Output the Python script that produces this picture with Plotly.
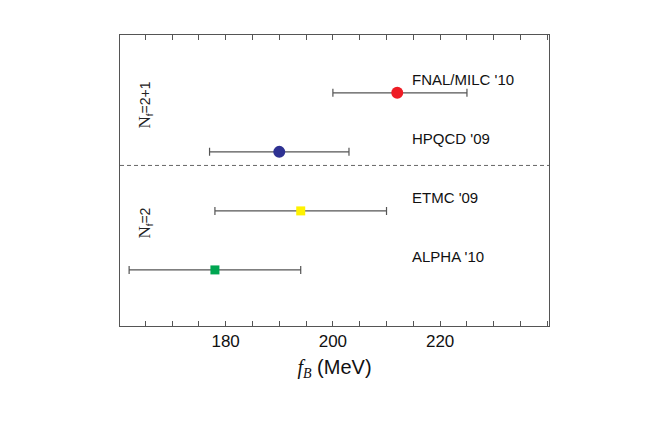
import plotly.graph_objects as go

# lattice results for f_B (MeV)
labels = ["FNAL/MILC '10", "HPQCD '09", "ETMC '09", "ALPHA '10"]
fb = [212, 190, 194, 178]
err_plus = [13, 13, 16, 16]
err_minus = [12, 13, 16, 16]
rows = [4, 3, 2, 1]
colors = ["#ee1c25", "#2e3192", "#fff200", "#00a651"]
symbols = ["circle", "circle", "square", "square"]
sizes = [12, 12, 9, 9]

fig = go.Figure()
for i in range(len(labels)):
    fig.add_trace(go.Scatter(
        x=[fb[i]], y=[rows[i]], mode="markers",
        marker=dict(color=colors[i], symbol=symbols[i], size=sizes[i], line=dict(width=0)),
        error_x=dict(type="data", symmetric=False, array=[err_plus[i]], arrayminus=[err_minus[i]],
                     color="#555555", thickness=1.2, width=4),
        showlegend=False))
    fig.add_annotation(x=214.3, y=rows[i] + 0.22, text=labels[i], showarrow=False,
                       xanchor="left", font=dict(family="Liberation Sans, Arial", size=15, color="#111"))

# separator between Nf=2+1 and Nf=2
fig.add_shape(type="line", xref="paper", x0=0, x1=1, y0=2.77, y1=2.77,
              line=dict(color="#666", width=1, dash="4px,3px"))

serif = "<span style='font-family:Liberation Serif;font-size:17px'>N</span><sub>f</sub>"
fig.add_annotation(xref="paper", x=0.03, y=3.8, text=serif + "=2+1", textangle=-90,
                   showarrow=False, font=dict(family="Liberation Sans, Arial", size=14, color="#222"))
fig.add_annotation(xref="paper", x=0.03, y=1.8, text=serif + "=2", textangle=-90,
                   showarrow=False, font=dict(family="Liberation Sans, Arial", size=14, color="#222"))

fig.update_layout(
    width=654, height=436,
    margin=dict(l=112, r=113, t=27, b=118),
    plot_bgcolor="white", paper_bgcolor="white",
    xaxis=dict(range=[160.3, 240.3], tickvals=[180, 200, 220], ticks="inside", ticklen=5,
               tickcolor="#555", mirror="ticks", showline=True, linecolor="#555", linewidth=1,
               showgrid=False, zeroline=False,
               minor=dict(dtick=5, tick0=160, ticks="inside", ticklen=5, tickcolor="#555"),
               tickfont=dict(family="Liberation Sans, Arial", size=17, color="#111"),
               title=dict(text="<span style='font-family:Liberation Serif'><i>f<sub>B</sub></i></span> (MeV)",
                          standoff=9,
                          font=dict(family="Liberation Sans, Arial", size=20, color="#111"))),
    yaxis=dict(range=[0.05, 4.98], showticklabels=False, ticks="", showgrid=False, zeroline=False,
               showline=True, mirror=True, linecolor="#555", linewidth=1),
)

fig.write_html("out.html")
